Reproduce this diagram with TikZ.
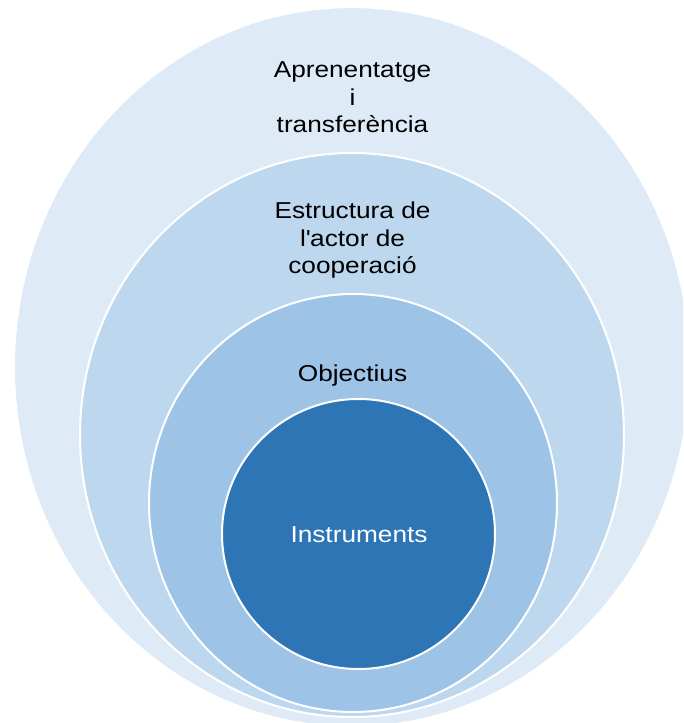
\documentclass[tikz,border=0pt]{standalone}
\usepackage{fontspec}
\setmainfont{Liberation Sans}[FakeStretch=1.14]
\usepackage{tikz}
\usepackage{xcolor}
\definecolor{ringA}{HTML}{DEEBF7}
\definecolor{ringB}{HTML}{BDD7EE}
\definecolor{ringC}{HTML}{9DC3E6}
\definecolor{ringD}{HTML}{2E75B6}
\newcommand{\lbl}{\fontsize{23}{27.5}\selectfont}

\begin{document}
\begin{tikzpicture}[x=1pt,y=-1pt,
        ring/.style={draw=white,line width=2pt},
        lbl/.style={align=center,anchor=base,inner sep=0pt,font=\lbl}]
            \useasboundingbox (0,0) rectangle (683,723);
            \clip (0,0) rectangle (683,723);
            \fill[white] (0,0) rectangle (683,723);
            \draw[ring,fill=ringA] (352,367) ellipse [x radius=338,y radius=360];
            \draw[ring,fill=ringB] (352,435) ellipse [x radius=272,y radius=282];
            \draw[ring,fill=ringC] (353,503) ellipse [x radius=204,y radius=209];
            \draw[ring,fill=ringD] (358.5,534) ellipse [x radius=136.5,y radius=135];
            \node[lbl] (learn) at (352.5,132.5) {Aprenentatge\\i\\transferència};
            \node[lbl] (actor) at (352.5,273.5) {Estructura de\\l\textquotesingle actor de\\cooperació};
            \node[lbl] (goals) at (352.5,381) {Objectius};
            \node[lbl,text=white] (tools) at (359,542) {Instruments};
        \end{tikzpicture}
\end{document}
